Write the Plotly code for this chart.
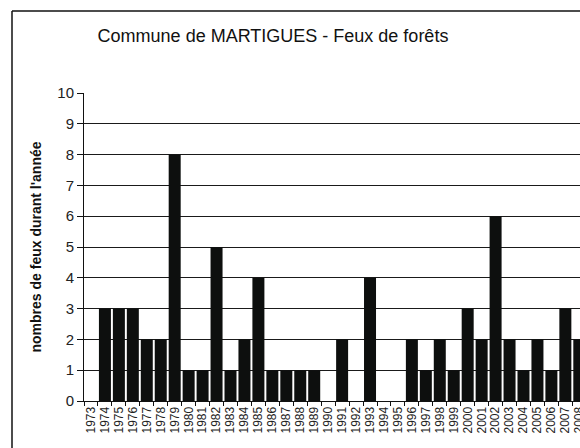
import plotly.graph_objects as go

# Number of forest fires per year, Martigues
years = [str(y) for y in range(1973, 2009)]
fires = [0, 3, 3, 3, 2, 2, 8, 1, 1, 5, 1, 2, 4, 1, 1, 1, 1, 0, 2, 0,
         4, 0, 0, 2, 1, 2, 1, 3, 2, 6, 2, 1, 2, 1, 3, 2]
y_ticks = list(range(0, 11))

title_text = "Commune de MARTIGUES - Feux de forêts"
y_title = "nombres de feux durant l'année"

fig = go.Figure(
    go.Bar(
        x=years,
        y=fires,
        marker=dict(color="#0d0f0e", line=dict(width=0)),
    )
)

W, H = 580, 448
left, top, bottom = 84, 93, 47
plot_w = W - left
plot_h = H - top - bottom

def px_to_paper_x(px):
    return (px - left) / plot_w

def px_to_paper_y(py):
    return (H - bottom - py) / plot_h

frame = dict(color="#111", width=1.5)

fig.update_layout(
    width=W,
    height=H,
    margin=dict(l=left, r=0, t=top, b=bottom),
    paper_bgcolor="white",
    plot_bgcolor="white",
    bargap=0.14,
    showlegend=False,
    font=dict(family="Liberation Sans, Arial, sans-serif", color="#111"),
    title=dict(
        text=title_text,
        x=px_to_paper_x(273),
        xref="paper",
        xanchor="center",
        y=1 - 36 / H,
        yref="container",
        yanchor="middle",
        font=dict(size=18, color="#111"),
    ),
    xaxis=dict(
        type="category",
        range=[-0.5, 35.05],
        tickmode="linear",
        dtick=1,
        tickangle=-90,
        tickfont=dict(size=12, color="#222"),
        showline=True,
        linecolor="#111",
        linewidth=1,
        ticks="outside",
        tickson="boundaries",
        ticklen=4,
        tickcolor="#111",
        showgrid=False,
        automargin=False,
    ),
    yaxis=dict(
        range=[0, 10],
        tickvals=y_ticks,
        tickfont=dict(size=15, color="#222"),
        showline=True,
        linecolor="#111",
        linewidth=1,
        ticks="outside",
        ticklen=6,
        tickcolor="#111",
        showgrid=True,
        gridcolor="#1a1a1a",
        gridwidth=1,
        zeroline=False,
        automargin=False,
        title=dict(
            text="<b>" + y_title + "</b>",
            font=dict(size=14, color="#111", family="Liberation Sans, Arial, sans-serif"),
            standoff=12,
        ),
    ),
    # outer chart border (left and top edges; the rest runs off the page)
    shapes=[
        dict(type="line", xref="paper", yref="paper",
             x0=px_to_paper_x(12), x1=px_to_paper_x(12),
             y0=px_to_paper_y(H), y1=px_to_paper_y(11), line=frame),
        dict(type="line", xref="paper", yref="paper",
             x0=px_to_paper_x(12), x1=1.0,
             y0=px_to_paper_y(11), y1=px_to_paper_y(11), line=frame),
    ],
)

# keep the page from scrolling so nothing but the figure is shown
fig.write_html(
    "out.html",
    post_script=(
        "document.documentElement.style.overflow='hidden';"
        "document.body.style.overflow='hidden';"
        "document.body.style.margin='0';"
    ),
)
